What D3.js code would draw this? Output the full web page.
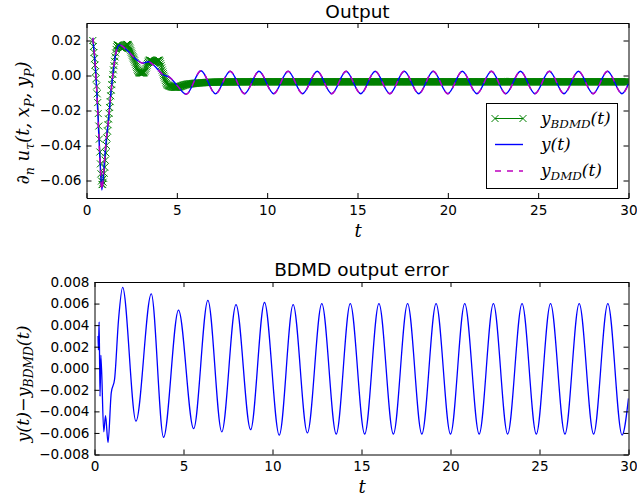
<!DOCTYPE html>
<html>
<head>
<meta charset="utf-8">
<script src="https://cdn.jsdelivr.net/npm/d3@7"></script>
<style>
  html, body { margin: 0; padding: 0; background: #fff; }
  svg { display: block; }
  .tick text { font-family: "DejaVu Sans", sans-serif; font-size: 13.6px; fill: #000; }
  .tick line, .domain { stroke: #000; stroke-width: 1; }
</style>
</head>
<body>
<svg id="chart" width="637" height="499"></svg>
<script>
// ---- Output signals (t, value), top panel ----
// measured wall-normal derivative y(t)
const yTrue = [
  [0.35, 0.0215], [0.5, 0.004], [0.62, -0.02], [0.74, -0.047], [0.85, -0.0654],
  [0.97, -0.052], [1.1, -0.036], [1.22, -0.0254], [1.35, -0.01], [1.49, 0.0031],
  [1.62, 0.0125], [1.83, 0.0174], [2.23, 0.0146], [2.78, 0.0089], [3.12, 0.007],
  [3.43, 0.0079], [3.71, 0.006], [4.26, 0.0003], [4.6, -0.001], [5.0, -0.0055],
  [5.52, -0.0107], [6.34, 0.0027], [7.14, -0.0105], [7.95, 0.0024], [8.75, -0.0104],
  [9.55, 0.0024], [10.36, -0.0104], [11.16, 0.0024], [11.96, -0.0104], [12.77, 0.0024],
  [13.57, -0.0104], [14.37, 0.0024], [15.18, -0.0104], [15.98, 0.0024], [16.79, -0.0104],
  [17.59, 0.0024], [18.39, -0.0104], [19.19, 0.0024], [20.0, -0.0104], [20.8, 0.0024],
  [21.61, -0.0104], [22.41, 0.0024], [23.21, -0.0104], [24.02, 0.0024], [24.82, -0.0104],
  [25.62, 0.0024], [26.43, -0.0104], [27.23, 0.0024], [28.04, -0.0104], [28.84, 0.0024],
  [29.64, -0.0104], [30.0, -0.0048]
];
// DMD reconstruction: coincides with y(t) at plotting resolution
const yDMD = yTrue;
// bilinear DMD reconstruction
const yBDMD = [
  [0.35, 0.020], [0.6, -0.012], [0.87, -0.0625], [1.2, -0.027], [1.5, 0.004],
  [1.72, 0.0175], [1.98, 0.0155], [2.25, 0.0178], [2.6, 0.010], [2.95, 0.0015],
  [3.15, 0.0015], [3.5, 0.0088], [3.75, 0.0075], [4.0, 0.0088], [4.25, 0.001],
  [4.5, -0.0055], [4.95, -0.0068], [5.5, -0.0052], [6.2, -0.0043], [7.5, -0.0037],
  [10, -0.0036], [15, -0.0036], [20, -0.0036], [25, -0.0036], [30, -0.0036]
];

// ---- BDMD output error (t, value), bottom panel ----
const errBDMD = [
  [0.2, 0.003], [0.22, 0.0017], [0.26, 0.0043], [0.31, -0.0026], [0.36, 0.0012],
  [0.52, -0.0059], [0.62, -0.0044], [0.76, -0.0069], [0.94, -0.0023], [1.13, -0.001],
  [1.35, 0.0045], [1.58, 0.0075], [2.33, -0.0049], [3.19, 0.0069], [3.88, -0.0064],
  [4.72, 0.0054], [5.57, -0.0056], [6.37, 0.0063], [7.15, -0.0059], [7.95, 0.0059],
  [8.77, -0.0057], [9.55, 0.0061], [10.38, -0.0062], [11.16, 0.0059], [11.96, -0.006],
  [12.77, 0.006], [13.58, -0.0061], [14.37, 0.006], [15.18, -0.0061], [15.98, 0.006],
  [16.79, -0.0061], [17.59, 0.006], [18.39, -0.0061], [19.19, 0.006], [20.0, -0.0061],
  [20.8, 0.006], [21.61, -0.0061], [22.41, 0.006], [23.21, -0.0061], [24.02, 0.006],
  [24.82, -0.0061], [25.62, 0.006], [26.43, -0.0061], [27.23, 0.006], [28.04, -0.0061],
  [28.84, 0.006], [29.64, -0.0062], [30.0, -0.0028]
];

// ---- tick values ----
const xTicks = [0, 5, 10, 15, 20, 25, 30];
const topYTicks = [-0.06, -0.04, -0.02, 0.00, 0.02];
const botYTicks = [-0.008, -0.006, -0.004, -0.002, 0.000, 0.002, 0.004, 0.006, 0.008];

const svg = d3.select("#chart");
const MATH_FONT = '"DejaVu Serif", serif';

// ---- scales ----
const topX = d3.scaleLinear([0, 30], [86.5, 628.5]);
const topY = d3.scaleLinear([-0.07, 0.03], [198, 23]);
const botX = d3.scaleLinear([0, 30], [94.5, 628.5]);
const botY = d3.scaleLinear([-0.008, 0.008], [454.5, 282]);

// math-style label: parts = [{t, sub}]
function mathText(g, parts, size) {
  const text = g.append("text")
    .attr("font-family", MATH_FONT)
    .attr("font-style", "italic")
    .attr("font-size", size)
    .attr("fill", "#000");
  let shifted = false;
  parts.forEach(p => {
    const ts = text.append("tspan").text(p.t);
    if (p.sub && !shifted) { ts.attr("dy", size * 0.25).attr("font-size", size * 0.7); shifted = true; }
    else if (p.sub) { ts.attr("font-size", size * 0.7); }
    else if (!p.sub && shifted) { ts.attr("dy", -size * 0.25); shifted = false; }
    if (p.upright) ts.attr("font-style", "normal");
  });
  return text;
}

function frameAxes(g, x, y, yTicks, yFmt) {
  g.append("g").attr("transform", `translate(0,${y.range()[0]})`)
    .call(d3.axisBottom(x).tickValues(xTicks).tickFormat(d3.format("d"))
      .tickSizeInner(-5).tickSizeOuter(0).tickPadding(7));
  g.append("g").attr("transform", `translate(0,${y.range()[1]})`)
    .call(d3.axisTop(x).tickValues(xTicks).tickFormat("")
      .tickSizeInner(-5).tickSizeOuter(0));
  g.append("g").attr("transform", `translate(${x.range()[0]},0)`)
    .call(d3.axisLeft(y).tickValues(yTicks).tickFormat(d3.format(yFmt))
      .tickSizeInner(-5).tickSizeOuter(0).tickPadding(5));
  g.append("g").attr("transform", `translate(${x.range()[1]},0)`)
    .call(d3.axisRight(y).tickValues(yTicks).tickFormat("")
      .tickSizeInner(-5).tickSizeOuter(0));
}

// ================= top panel =================
const topPanel = svg.append("g");
svg.append("clipPath").attr("id", "clip-top").append("rect")
  .attr("x", topX.range()[0]).attr("y", topY.range()[1])
  .attr("width", topX.range()[1] - topX.range()[0])
  .attr("height", topY.range()[0] - topY.range()[1]);
const plotTop = topPanel.append("g").attr("clip-path", "url(#clip-top)");

const lineTop = d3.line().x(d => topX(d[0])).y(d => topY(d[1])).curve(d3.curveMonotoneX);

// BDMD line plus 'x' markers at every time step of the line
const green = "#008000";
const bdmdPath = plotTop.append("path").datum(yBDMD)
  .attr("d", lineTop).attr("fill", "none").attr("stroke", green).attr("stroke-width", 1);

(function addMarkers() {
  const node = bdmdPath.node();
  const L = node.getTotalLength();
  const pts = [];
  for (let s = 0; s <= L; s += 0.4) pts.push(node.getPointAtLength(s));
  pts.push(node.getPointAtLength(L));
  const tGrid = d3.range(yBDMD[0][0], 30.0001, 0.03);
  const bis = d3.bisector(p => p.x).left;
  let dStr = "";
  const h = 3.5;
  tGrid.forEach(t => {
    const px = topX(t);
    let i = Math.min(Math.max(bis(pts, px), 1), pts.length - 1);
    const a = pts[i - 1], b = pts[i];
    const f = b.x === a.x ? 0 : (px - a.x) / (b.x - a.x);
    const py = a.y + f * (b.y - a.y);
    dStr += `M${px - h},${py - h}L${px + h},${py + h}M${px - h},${py + h}L${px + h},${py - h}`;
  });
  plotTop.append("path").attr("d", dStr).attr("fill", "none")
    .attr("stroke", green).attr("stroke-width", 1);
})();

plotTop.append("path").datum(yTrue).attr("d", lineTop)
  .attr("fill", "none").attr("stroke", "#0000ff").attr("stroke-width", 1.4);
plotTop.append("path").datum(yDMD).attr("d", lineTop)
  .attr("fill", "none").attr("stroke", "#bf00bf").attr("stroke-width", 1.4)
  .attr("stroke-dasharray", "6,6");

frameAxes(topPanel, topX, topY, topYTicks, ".2f");

topPanel.append("text").attr("x", (topX.range()[0] + topX.range()[1]) / 2).attr("y", 18)
  .attr("text-anchor", "middle").attr("font-family", '"DejaVu Sans", sans-serif')
  .attr("font-size", 18.5).text("Output");

mathText(topPanel.append("g").attr("transform", "translate(358,237)"), [{ t: "t" }], 18)
  .attr("text-anchor", "middle");

mathText(topPanel.append("g").attr("transform", "translate(29,123) rotate(-90)"),
  [{ t: "∂", upright: true }, { t: "n", sub: true }, { t: " u" }, { t: "τ", sub: true },
   { t: "(t, x" }, { t: "P", sub: true }, { t: ", y" }, { t: "P", sub: true }, { t: ")" }], 18)
  .attr("text-anchor", "middle");

// legend
const leg = topPanel.append("g");
leg.append("rect").attr("x", 486.5).attr("y", 103.5).attr("width", 131).attr("height", 85)
  .attr("fill", "#fff").attr("stroke", "#000").attr("stroke-width", 1);
const legRows = [
  { y: 118.5, color: green, dash: null, marker: true, parts: [{ t: "y" }, { t: "BDMD", sub: true }, { t: "(t)" }] },
  { y: 144.5, color: "#0000ff", dash: null, marker: false, parts: [{ t: "y(t)" }] },
  { y: 171, color: "#bf00bf", dash: "6,6", marker: false, parts: [{ t: "y" }, { t: "DMD", sub: true }, { t: "(t)" }] }
];
legRows.forEach(r => {
  leg.append("line").attr("x1", 495).attr("x2", 523).attr("y1", r.y).attr("y2", r.y)
    .attr("stroke", r.color).attr("stroke-width", r.marker ? 1 : 1.4)
    .attr("stroke-dasharray", r.dash);
  if (r.marker) {
    [495, 523].forEach(mx => {
      leg.append("path")
        .attr("d", `M${mx - 3.5},${r.y - 3.5}L${mx + 3.5},${r.y + 3.5}M${mx - 3.5},${r.y + 3.5}L${mx + 3.5},${r.y - 3.5}`)
        .attr("stroke", r.color).attr("stroke-width", 1);
    });
  }
  mathText(leg.append("g").attr("transform", `translate(541,${r.y + 5})`), r.parts, 17);
});

// ================= bottom panel =================
const botPanel = svg.append("g");
svg.append("clipPath").attr("id", "clip-bot").append("rect")
  .attr("x", botX.range()[0]).attr("y", botY.range()[1])
  .attr("width", botX.range()[1] - botX.range()[0])
  .attr("height", botY.range()[0] - botY.range()[1]);
const plotBot = botPanel.append("g").attr("clip-path", "url(#clip-bot)");

const lineBot = d3.line().x(d => botX(d[0])).y(d => botY(d[1])).curve(d3.curveMonotoneX);
plotBot.append("path").datum(errBDMD).attr("d", lineBot)
  .attr("fill", "none").attr("stroke", "#0000ff").attr("stroke-width", 1.3);

frameAxes(botPanel, botX, botY, botYTicks, ".3f");

botPanel.append("text").attr("x", (botX.range()[0] + botX.range()[1]) / 2).attr("y", 276)
  .attr("text-anchor", "middle").attr("font-family", '"DejaVu Sans", sans-serif')
  .attr("font-size", 18.5).text("BDMD output error");

mathText(botPanel.append("g").attr("transform", "translate(362,493)"), [{ t: "t" }], 18)
  .attr("text-anchor", "middle");

mathText(botPanel.append("g").attr("transform", "translate(29,384) rotate(-90)"),
  [{ t: "y(t)" }, { t: "−", upright: true }, { t: "y" }, { t: "BDMD", sub: true }, { t: "(t)" }], 17.5)
  .attr("text-anchor", "middle");
</script>
</body>
</html>
